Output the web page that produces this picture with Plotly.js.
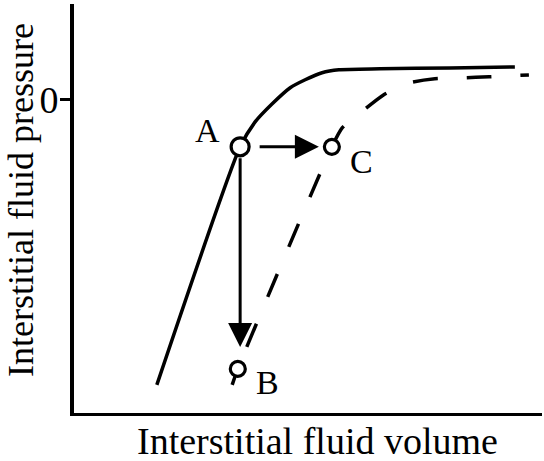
<!DOCTYPE html>
<html>
<head>
<meta charset="utf-8">
<script src="https://cdn.plot.ly/plotly-3.0.1.min.js"></script>
<style>
  html, body { margin: 0; padding: 0; background: #fff; }
  #chart { width: 544px; height: 461px; }
</style>
</head>
<body>
<div id="chart"></div>
<script>
// normal compliance curve (solid)
const normalVolume   = [1.77, 3.55, 3.87, 4.23, 4.62, 4.94, 5.30, 5.66, 6.54, 8.03, 9.42];
const normalPressure = [-8.92, -1.47, -0.69, -0.13, 0.38, 0.63, 0.85, 0.94, 0.97, 1.00, 1.03];

// shifted curve (dashed)
const shiftedVolume   = [3.38, 3.50, 5.51, 5.73, 6.20, 6.62, 7.16, 7.71, 8.29, 8.87, 9.72];
const shiftedPressure = [-8.92, -8.42, -1.47, -0.88, -0.31, 0.16, 0.53, 0.66, 0.69, 0.72, 0.78];

// labelled states
const pointNames    = ['A', 'B', 'C'];
const pointVolume   = [3.55, 3.50, 5.51];
const pointPressure = [-1.47, -8.42, -1.47];

const yTickVals = [0];
const yTickText = ['0'];

const xTitle = 'Interstitial fluid volume';
const yTitle = 'Interstitial fluid pressure';

const serif = '"Liberation Serif", "Times New Roman", serif';

// dash pattern: short first dash, then regular dashes
const dashPattern = '12px,' + Array(14).fill('29px,25px').join(',') + ',29px';

const markerSizes = [18, 15, 15];

const traces = [
  {
    x: normalVolume, y: normalPressure,
    type: 'scatter', mode: 'lines',
    line: { color: '#000', width: 3.5, shape: 'spline', smoothing: 0.6 },
    hoverinfo: 'skip'
  },
  {
    x: shiftedVolume, y: shiftedPressure,
    type: 'scatter', mode: 'lines',
    line: { color: '#000', width: 3.5, dash: dashPattern, shape: 'spline', smoothing: 0.6 },
    hoverinfo: 'skip'
  },
  // open circles with white fill (masks the curves underneath)
  {
    x: pointVolume, y: pointPressure,
    type: 'scatter', mode: 'markers',
    marker: { symbol: 'circle', size: markerSizes, color: '#fff', opacity: 1,
              line: { color: '#000', width: 3.2 } },
    hoverinfo: 'skip'
  }
];

const A = 0, B = 1, C = 2;
// label offsets in px (A, B, C)
const labelShift = [[-33, 16], [30, -14], [30, -15]];

const annotations = pointNames.map((name, i) => ({
  x: pointVolume[i], y: pointPressure[i], xref: 'x', yref: 'y',
  text: name, showarrow: false,
  xshift: labelShift[i][0], yshift: labelShift[i][1],
  font: { family: serif, size: 34, color: '#000' }
}));

// A -> B (vertical drop)
annotations.push({
  x: pointVolume[A], y: pointPressure[B], ax: pointVolume[A], ay: pointPressure[A],
  xref: 'x', yref: 'y', axref: 'x', ayref: 'y',
  text: '', showarrow: true, arrowhead: 2, arrowsize: 1.6, arrowwidth: 3, arrowcolor: '#000',
  standoff: 22, startstandoff: 10
});
// A -> C (horizontal shift)
annotations.push({
  x: pointVolume[C], y: pointPressure[C], ax: pointVolume[A], ay: pointPressure[A],
  xref: 'x', yref: 'y', axref: 'x', ayref: 'y',
  text: '', showarrow: true, arrowhead: 2, arrowsize: 1.6, arrowwidth: 3, arrowcolor: '#000',
  standoff: 13, startstandoff: 18
});

// axis titles placed as paper annotations for exact placement
annotations.push({
  xref: 'paper', yref: 'paper', x: 0.52, y: -0.068, xanchor: 'center', yanchor: 'middle',
  text: xTitle, showarrow: false, font: { family: serif, size: 38, color: '#000' }
});
annotations.push({
  xref: 'paper', yref: 'paper', x: -0.112, y: 0.52, xanchor: 'center', yanchor: 'middle',
  text: yTitle, textangle: -90, showarrow: false, font: { family: serif, size: 36, color: '#000' }
});

const layout = {
  width: 544, height: 461,
  margin: { l: 74, r: 2, t: 4, b: 48 },
  paper_bgcolor: '#fff', plot_bgcolor: '#fff',
  showlegend: false,
  font: { family: serif, color: '#000' },
  xaxis: {
    range: [0, 10], showline: true, linewidth: 3, linecolor: '#000',
    showgrid: false, zeroline: false, showticklabels: false, ticks: '',
    fixedrange: true
  },
  yaxis: {
    range: [-9.8, 3], showline: true, linewidth: 4, linecolor: '#000',
    showgrid: false, zeroline: false,
    tickvals: yTickVals, ticktext: yTickText,
    ticks: 'outside', ticklen: 10, tickwidth: 3, tickcolor: '#000',
    ticklabelstandoff: -6,
    tickfont: { family: serif, size: 38, color: '#000' },
    fixedrange: true
  },
  annotations: annotations
};

Plotly.newPlot('chart', traces, layout, { displayModeBar: false, staticPlot: true });
</script>
</body>
</html>
